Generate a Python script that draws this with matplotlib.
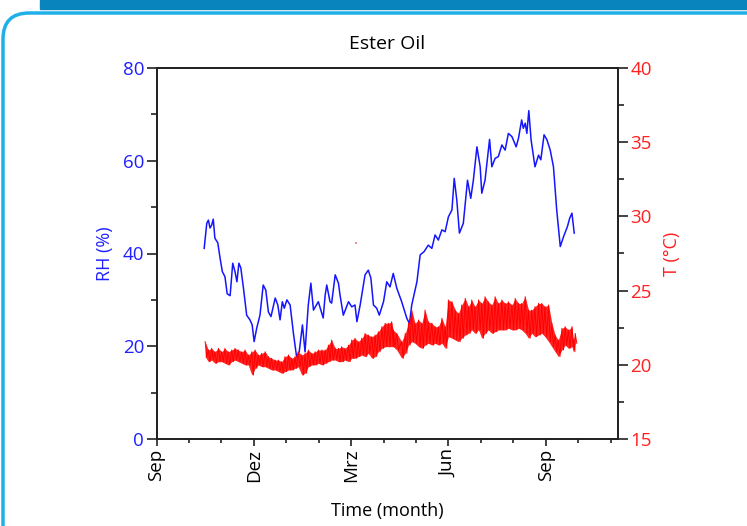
import matplotlib
matplotlib.use("Agg")
import matplotlib.pyplot as plt
from matplotlib.patches import FancyBboxPatch, Rectangle
from matplotlib.ticker import MultipleLocator

plt.rcParams['font.family'] = ['Open Sans', 'DejaVu Sans']

# time axis in months, 0 = September
month_ticks = [0, 3, 6, 9, 12]
month_names = ['Sep', 'Dez', 'Mrz', 'Jun', 'Sep']

# relative humidity (%)
rh_month = [1.47, 1.55, 1.60, 1.65, 1.70, 1.75, 1.80, 1.89, 1.96, 2.03, 2.11, 2.18, 2.27, 2.35,
            2.42, 2.48, 2.54, 2.60, 2.68, 2.78, 2.88, 2.95, 3.01, 3.09, 3.19, 3.29, 3.37, 3.45,
            3.53, 3.66, 3.74, 3.81, 3.88, 3.94, 4.02, 4.12, 4.22, 4.32, 4.40, 4.50, 4.58, 4.68,
            4.76, 4.84, 4.99, 5.14, 5.20, 5.25, 5.35, 5.40, 5.51, 5.61, 5.66, 5.76, 5.92, 6.02,
            6.12, 6.18, 6.28, 6.43, 6.53, 6.61, 6.69, 6.79, 6.87, 7.00, 7.10, 7.20, 7.30, 7.41,
            7.56, 7.72, 7.80, 7.87, 8.03, 8.13, 8.25, 8.38, 8.49, 8.59, 8.69, 8.80, 8.90, 9.00,
            9.11, 9.18, 9.26, 9.34, 9.46, 9.59, 9.69, 9.77, 9.88, 9.98, 10.03, 10.13, 10.27, 10.34,
            10.44, 10.54, 10.65, 10.75, 10.85, 10.96, 11.09, 11.16, 11.26, 11.31, 11.37, 11.42,
            11.48, 11.55, 11.67, 11.78, 11.85, 11.95, 12.04, 12.14, 12.24, 12.34, 12.45, 12.55,
            12.67, 12.74, 12.81, 12.88]
rh_val = [41.1, 46.5, 47.2, 45.5, 46.1, 47.4, 43.3, 42.3, 39.0, 36.1, 35.0, 31.3, 30.9, 37.9,
          36.1, 33.9, 37.9, 36.9, 32.6, 26.7, 25.7, 24.6, 21.0, 23.9, 26.7, 33.2, 32.1, 27.4,
          26.4, 30.4, 28.9, 25.7, 29.6, 28.2, 30.0, 28.9, 22.9, 17.7, 18.8, 24.6, 18.8, 28.9,
          33.6, 27.8, 29.6, 26.1, 31.0, 33.2, 29.6, 29.3, 35.4, 33.6, 31.0, 26.7, 29.6, 28.5,
          28.9, 25.3, 28.9, 35.4, 36.4, 34.7, 28.9, 28.2, 26.7, 29.6, 33.9, 32.8, 35.7, 32.5,
          29.6, 26.0, 24.9, 28.9, 33.9, 39.7, 40.4, 41.8, 41.1, 44.0, 42.9, 45.1, 44.7, 47.9,
          49.4, 56.2, 51.5, 44.4, 46.5, 55.8, 51.9, 55.8, 63.0, 58.7, 53.0, 55.8, 64.6, 58.7,
          60.5, 60.9, 63.4, 62.3, 65.9, 65.2, 63.0, 64.8, 68.8, 67.0, 68.1, 65.9,
          70.8, 64.5, 58.7, 61.2, 60.2, 65.6, 64.5, 62.3, 58.7, 49.4, 41.5, 43.6,
          45.8, 47.6, 48.7, 44.4]

# temperature (°C): upper and lower edge of the noisy red trace
t_month = [1.50, 1.60, 1.70, 1.80, 1.91, 2.01, 2.11, 2.21, 2.32, 2.42, 2.52, 2.63, 2.73, 2.83,
           2.94, 3.04, 3.14, 3.24, 3.35, 3.45, 3.55, 3.66, 3.76, 3.86, 3.96, 4.07, 4.17, 4.27,
           4.37, 4.48, 4.58, 4.68, 4.79, 4.89, 4.99, 5.10, 5.20, 5.30, 5.40, 5.51, 5.61, 5.71,
           5.81, 5.92, 6.02, 6.12, 6.22, 6.33, 6.43, 6.53, 6.64, 6.74, 6.84, 6.95, 7.05, 7.15,
           7.25, 7.30, 7.41, 7.56, 7.67, 7.77, 7.87, 7.97, 8.08, 8.18, 8.28, 8.38, 8.49, 8.59,
           8.69, 8.80, 8.90, 9.00, 9.11, 9.21, 9.31, 9.41, 9.52, 9.62, 9.72, 9.82, 9.93, 10.03,
           10.13, 10.23, 10.34, 10.44, 10.54, 10.65, 10.75, 10.85, 10.96, 11.06, 11.16, 11.26,
           11.37, 11.47, 11.57, 11.67, 11.78, 11.88, 11.98, 12.09, 12.19, 12.29, 12.39, 12.50,
           12.60, 12.70, 12.81, 12.85, 12.91]
t_high = [21.56, 21.00, 21.11, 20.88, 21.11, 20.88, 21.11, 20.88, 21.00, 21.11, 21.00, 20.88, 21.00, 20.66,
          20.88, 21.00, 20.66, 20.77, 20.88, 20.55, 20.44, 20.32, 20.32, 20.21, 20.55, 20.66, 20.44, 20.55,
          20.88, 20.66, 20.77, 21.00, 20.77, 20.88, 21.00, 21.00, 21.00, 21.33, 21.67, 21.11, 21.11, 21.22,
          21.11, 21.33, 21.67, 21.79, 21.56, 21.79, 22.12, 22.01, 21.89, 22.01, 22.23, 22.57, 22.80, 22.80,
          22.90, 22.35, 22.12, 21.56, 22.12, 22.80, 23.69, 22.80, 23.02, 22.80, 23.69, 22.90, 22.80, 22.57,
          22.57, 23.13, 22.57, 24.37, 24.25, 23.69, 23.47, 24.03, 24.48, 23.92, 24.37, 23.92, 24.37, 24.14,
          24.59, 24.25, 24.03, 24.59, 24.14, 24.37, 24.14, 24.25, 24.03, 24.48, 24.14, 24.14,
          24.59, 23.69, 23.69, 23.92, 24.14, 24.14, 23.92, 24.03, 22.80, 22.01, 21.67, 22.46,
          22.57, 22.35, 22.57, 21.67, 22.12]
t_low = [20.55, 20.21, 20.32, 20.10, 20.21, 20.21, 20.10, 19.99, 20.21, 20.32, 20.21, 20.10, 19.99, 19.99,
         19.31, 19.76, 19.99, 19.87, 19.87, 19.76, 19.65, 19.65, 19.54, 19.43, 19.54, 19.65, 19.65, 19.76,
         19.87, 19.31, 19.43, 19.87, 19.99, 19.99, 20.10, 19.99, 20.10, 20.21, 20.32, 20.32, 20.21, 20.21,
         20.32, 20.21, 20.44, 20.44, 20.55, 20.66, 20.55, 20.77, 20.44, 20.55, 20.88, 21.11, 21.22, 21.22,
         21.22, 21.22, 21.00, 20.44, 20.77, 21.33, 21.56, 21.45, 21.22, 21.11, 21.33, 21.45, 21.33, 21.45,
         21.33, 21.45, 21.11, 21.89, 21.79, 21.67, 21.56, 21.79, 22.01, 22.12, 22.35, 22.12, 22.35, 21.79,
         22.12, 22.35, 22.12, 22.23, 22.35, 22.35, 22.35, 22.46, 22.35, 22.35, 22.46, 22.35,
         22.12, 21.79, 22.12, 21.89, 22.01, 22.12, 21.89, 21.56, 21.22, 20.88, 20.55, 21.00,
         21.33, 21.11, 21.22, 20.88, 21.45]

# single stray temperature sample
stray_month = [6.14]
stray_temp = [28.19]

fig = plt.figure(figsize=(7.47, 5.26), dpi=100)

# page decoration: blue bar on top and rounded frame
fig.patches.append(Rectangle((40 / 747, 1 - 9 / 526), 1, 9 / 526, transform=fig.transFigure,
                             color='#0a84bd', zorder=0))
fig.patches.append(FancyBboxPatch((3 / 747, -0.2), 1.2, 1.2 - 13 / 526,
                                  boxstyle='round,pad=0,rounding_size=0.035',
                                  mutation_aspect=747 / 526, transform=fig.transFigure,
                                  fill=False, ec='#1fb0e8', lw=2.5, zorder=0))

ax = fig.add_axes([156.5 / 747, 1 - 439 / 526, (618 - 156.5) / 747, (439 - 68) / 526])
ax2 = ax.twinx()

ax.plot(rh_month, rh_val, color='#1515ff', lw=1.1)

zig_x, zig_y = [], []
for m, hi, lo in zip(t_month, t_high, t_low):
    zig_x += [m, m + 0.05]
    zig_y += [hi, lo]
ax2.fill_between(t_month, t_low, t_high, color='red', alpha=0.85, lw=0)
ax2.plot(zig_x, zig_y, color='red', lw=0.7)
ax2.plot(stray_month, stray_temp, 's', color='#ff9090', ms=1.5, mew=0)

ax.set_xlim(0, 14.23)
ax.set_ylim(0, 80)
ax2.set_ylim(15, 40)

ax.set_xticks(month_ticks, month_names, rotation=90)
ax.xaxis.set_minor_locator(MultipleLocator(1))
ax.set_yticks([0, 20, 40, 60, 80])
ax.yaxis.set_minor_locator(MultipleLocator(10))
ax2.set_yticks([15, 20, 25, 30, 35, 40])
ax2.yaxis.set_minor_locator(MultipleLocator(2.5))

for a in (ax, ax2):
    a.tick_params(which='major', direction='out', length=7, width=1.2, color='#222222', labelsize=13.5)
    a.tick_params(which='minor', direction='out', length=4, width=1.2, color='#222222')
    for s in a.spines.values():
        s.set_linewidth(1.3)
        s.set_color('#222222')
ax.tick_params(axis='x', which='major', length=5, pad=2)
ax.tick_params(axis='x', which='minor', length=3)
ax.tick_params(axis='y', labelcolor='#2020ff', pad=2)
ax2.tick_params(axis='y', labelcolor='#ff2020', pad=2)

ax.set_xlabel('Time (month)', fontsize=13, labelpad=14)
ax.set_ylabel('RH (%)', fontsize=13, color='#2020ff', labelpad=6)
ax2.set_ylabel('T (°C)', fontsize=13, color='#ff2020', labelpad=8)
ax.set_title('Ester Oil', fontsize=14, pad=14)

fig.savefig('out.png', dpi=100)
